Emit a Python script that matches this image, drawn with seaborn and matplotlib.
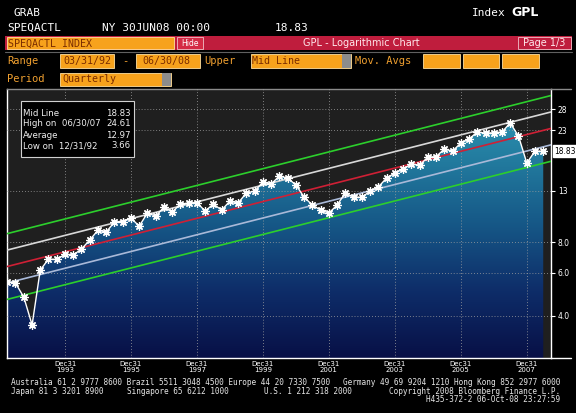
import numpy as np
import pandas as pd
import matplotlib
matplotlib.use("Agg")
import matplotlib.pyplot as plt
import matplotlib.dates as mdates
import matplotlib.transforms as mtrans
from matplotlib.colors import LinearSegmentedColormap
from matplotlib.patches import Rectangle
from matplotlib.lines import Line2D
import seaborn as sns

# ---------------- data ----------------
period_start = "1992Q1"
period_end = "2008Q2"
values = [5.49, 5.43, 4.76, 3.66, 6.14, 6.81, 6.79, 7.14, 7.08, 7.49,
          8.15, 8.96, 8.79, 9.66, 9.70, 10.03, 9.30, 10.52, 10.22, 11.13,
          10.61, 11.45, 11.56, 11.60, 10.72, 11.45, 10.82, 11.78, 11.56, 12.70,
          12.94, 14.09, 13.83, 14.91, 14.63, 13.70, 12.23, 11.34, 10.82, 10.52,
          11.34, 12.70, 12.23, 12.20, 12.94, 13.44, 14.63, 15.35, 15.93, 16.70,
          16.54, 17.83, 17.90, 19.23, 18.88, 20.37, 21.14, 22.59, 22.37, 22.41,
          22.59, 24.61, 21.75, 16.87, 18.88, 18.83]
major_years = [1993, 1995, 1997, 1999, 2001, 2003, 2005, 2007]
minor_years = [1992, 1994, 1996, 1998, 2000, 2002, 2004, 2006]
ytick_values = [4, 6, 8, 13, 23, 28]
ytick_labels = ["4.0", "6.0", "8.0", "13", "23", "28"]
last_value = 18.83
legend_rows = [("Mid Line", "18.83"), ("High on  06/30/07", "24.61"),
               ("Average", "12.97"), ("Low on  12/31/92", "3.66")]
footer1_left = "Australia 61 2 9777 8600 Brazil 5511 3048 4500 Europe 44 20 7330 7500"
footer1_right = "Germany 49 69 9204 1210 Hong Kong 852 2977 6000"
footer2_parts = ["Japan 81 3 3201 8900", "Singapore 65 6212 1000", "U.S. 1 212 318 2000"]
footer2_right = "Copyright 2008 Bloomberg Finance L.P."
footer3 = "H435-372-2 06-Oct-08 23:27:59"

dates = pd.period_range(period_start, period_end, freq="Q").to_timestamp(how="end").normalize()
df = pd.DataFrame({"date": dates, "value": values})

# ---------------- figure ----------------
W, H = 576, 413
sns.set_theme(style="dark")
plt.rcParams["font.family"] = ["DejaVu Sans", "Noto Sans"]
MONO = ["DejaVu Sans Mono", "DejaVu Sans"]

fig = plt.figure(figsize=(W / 100, H / 100), dpi=100, facecolor="black")


def fx(x):
    return x / W


def fy(y):
    return 1 - y / H


def rect(x0, y0, x1, y1, fc, ec="none", lw=0.0, z=1):
    fig.add_artist(Rectangle((fx(x0), fy(y1)), (x1 - x0) / W, (y1 - y0) / H,
                             transform=fig.transFigure, facecolor=fc,
                             edgecolor=ec, linewidth=lw, zorder=z))


def ftext(x, y, s, **kw):
    kw.setdefault("color", "white")
    kw.setdefault("va", "center")
    kw.setdefault("ha", "left")
    fig.text(fx(x), fy(y), s, **kw)


def hline(x0, x1, y, color, lw=1.0):
    fig.add_artist(Line2D([fx(x0), fx(x1)], [fy(y), fy(y)], transform=fig.transFigure,
                          color=color, linewidth=lw))


# ---- header ----
ftext(14, 13, "GRAB", family=MONO, fontsize=8)
ftext(7, 28, "SPEQACTL", family=MONO, fontsize=8)
ftext(102, 28, "NY 30JUN08 00:00", family=MONO, fontsize=8)
ftext(275, 28, "18.83", family=MONO, fontsize=8)
ftext(472, 13, "Index", family=MONO, fontsize=8)
ftext(511, 13, "GPL", family="DejaVu Sans", fontsize=9, fontweight="bold")

ORANGE = "#f7a21c"
ORTXT = "#7a2c00"
LBL = "#f0a030"
RED = "#bf1d3d"

rect(5, 36, 572, 50, RED)
rect(7, 37, 174, 49, ORANGE, ec="#ffe0a0", lw=0.6, z=2)
ftext(8, 43.5, "SPEQACTL INDEX", family=MONO, fontsize=7.2, color=ORTXT, zorder=3)
rect(177, 37.5, 203, 48.5, "#d42a45", ec="#f0c0c8", lw=0.6, z=2)
ftext(190, 43, "Hide", fontsize=5.5, ha="center", color="white", zorder=3)
ftext(361, 43.5, "GPL - Logarithmic Chart", fontsize=7, ha="center", color="#ffe8ec", zorder=3)
rect(518, 37, 571, 49, RED, ec="#f0c0c8", lw=0.6, z=2)
ftext(544.5, 43.5, "Page 1/3", fontsize=7, ha="center", color="#ffe8ec", zorder=3)
hline(5, 572, 51.5, "#606060", 0.8)

ftext(7, 61, "Range", family=MONO, fontsize=7.5, color=LBL)
rect(60, 54, 114, 68, ORANGE, ec="#ffe0a0", lw=0.6, z=2)
ftext(63, 61, "03/31/92", family=MONO, fontsize=7.2, color=ORTXT, zorder=3)
ftext(125, 61, "-", family=MONO, fontsize=7.5, color=LBL, ha="center")
rect(136, 54, 200, 68, ORANGE, ec="#ffe0a0", lw=0.6, z=2)
ftext(142, 61, "06/30/08", family=MONO, fontsize=7.2, color=ORTXT, zorder=3)
ftext(204, 61, "Upper", family=MONO, fontsize=7.5, color=LBL)
rect(251, 54, 351, 68, ORANGE, ec="#ffe0a0", lw=0.6, z=2)
rect(342, 54, 351, 68, "#8c8c8c", z=2)
ftext(252, 61, "Mid Line", family=MONO, fontsize=7.2, color=ORTXT, zorder=3)
ftext(355, 61, "Mov. Avgs", family=MONO, fontsize=7.5, color=LBL)
for a, b in [(423, 460), (463, 499), (502, 539)]:
    rect(a, 54, b, 68, ORANGE, ec="#ffe0a0", lw=0.6, z=2)

ftext(7, 79.5, "Period", family=MONO, fontsize=7.5, color=LBL)
rect(60, 73, 171, 86, ORANGE, ec="#ffe0a0", lw=0.6, z=2)
rect(162, 73, 171, 86, "#8c8c8c", z=2)
ftext(62, 79.5, "Quarterly", family=MONO, fontsize=7.2, color=ORTXT, zorder=3)

# ---- chart ----
ax = fig.add_axes([fx(7), fy(358), 544 / W, 269 / H])
ax.set_facecolor("#1f1f1f")
ax.set_yscale("log")
xlim = (pd.Timestamp("1992-03-28"), pd.Timestamp("2008-09-24"))
ylim = (2.68, 33.9)
ax.set_xlim(*xlim)
ax.set_ylim(*ylim)
ax.set_autoscale_on(False)

# gradient-filled area under the series
poly = ax.fill_between(df["date"], df["value"], ylim[0], facecolor="none",
                       edgecolor="none", zorder=1)
cmap = LinearSegmentedColormap.from_list(
    "bbg", [(0.0, "#081046"), (0.25, "#0e2d69"), (0.5, "#165887"),
            (0.75, "#237da0"), (1.0, "#339cba")])
grad = np.linspace(0, 1, 256).reshape(-1, 1)
im = ax.imshow(grad, extent=(0, 1, 0, 1), transform=ax.transAxes, origin="lower",
               cmap=cmap, aspect="auto", zorder=1, interpolation="bilinear")
im.set_clip_path(poly.get_paths()[0], ax.transData)

# log-linear regression channel
t = mdates.date2num(df["date"])
lv = np.log(df["value"].to_numpy())
coef = np.polyfit(t, lv, 1)
sd = np.std(lv - np.polyval(coef, t), ddof=1)
tx = mdates.date2num(list(xlim))
base = np.polyval(coef, tx)
chan = pd.DataFrame({"date": list(xlim) * 5,
                     "value": np.exp(np.concatenate([base + 2 * sd, base + sd, base,
                                                     base - sd, base - 2 * sd])),
                     "band": np.repeat(["+2", "+1", "0", "-1", "-2"], 2)})
band_colors = {"+2": "#2ccf2c", "+1": "#d8d8d8", "0": "#cf2035",
               "-1": "#a9b9d8", "-2": "#2ccf2c"}
sns.lineplot(data=chan, x="date", y="value", hue="band", palette=band_colors,
             linewidth=1.2, legend=False, ax=ax, zorder=3, estimator=None)

sns.lineplot(data=df, x="date", y="value", color="white", linewidth=1.0,
             marker=(8, 2, 0), markersize=6, markeredgecolor="white",
             markeredgewidth=0.9, ax=ax, zorder=5, estimator=None)
ax.set_xlim(*xlim)
ax.set_ylim(*ylim)
ax.set_xlabel("")
ax.set_ylabel("")

# ticks & grid
major_x = [pd.Timestamp(f"{y}-12-31") for y in major_years]
minor_x = [pd.Timestamp(f"{y}-12-31") for y in minor_years]
ax.set_xticks(major_x, labels=[f"Dec31\n{y}" for y in major_years])
ax.set_xticks(minor_x, minor=True)
ax.yaxis.tick_right()
ax.set_yticks(ytick_values, labels=ytick_labels)
ax.yaxis.set_minor_locator(matplotlib.ticker.NullLocator())
ax.tick_params(axis="x", which="both", colors="white", direction="out", length=2,
               width=0.8, labelsize=5, pad=0.5)
ax.tick_params(axis="y", which="both", colors="white", direction="out", length=3,
               width=0.8, labelsize=5.5, pad=2, right=True, left=False)
for lbl in ax.get_xticklabels():
    lbl.set_linespacing(1.0)
ax.set_axisbelow(False)
ax.grid(True, which="major", color="#a0a0a0", linestyle=(0, (1, 2.5)), linewidth=0.6)
ax.grid(False, which="minor")
for side in ["left", "right", "bottom"]:
    ax.spines[side].set_color("white")
    ax.spines[side].set_linewidth(1.0)
ax.spines["top"].set_color("#8a8a8a")
ax.spines["top"].set_linewidth(1.0)

# last value marker box on the right axis
bt = mtrans.blended_transform_factory(ax.transAxes, ax.transData)
ax.text(1.006, last_value, f"{last_value:.2f}", transform=bt, fontsize=5.5,
        color="black", va="center", ha="left", clip_on=False, zorder=10,
        bbox=dict(boxstyle="square,pad=0.2", facecolor="white", edgecolor="white"))

hline(551, 571, 88.5, "#8a8a8a", 1.0)
hline(551, 571, 358, "white", 1.0)

# statistics box
rect(21, 101, 134, 157, "black", ec="#d0d0d0", lw=0.8, z=5)
for i, (k, v) in enumerate(legend_rows):
    yy = 113 + i * 11
    ftext(23, yy, k, fontsize=6.2, color="#f0f0f0", zorder=6)
    ftext(131, yy, v, fontsize=6.2, color="#f0f0f0", ha="right", zorder=6)

# ---- footer ----
FS = 5.6
ftext(11, 382.5, footer1_left, family=MONO, fontsize=FS, color="#e6e6e6")
ftext(560, 382.5, footer1_right, family=MONO, fontsize=FS, color="#e6e6e6", ha="right")
for xx, s in zip([11, 127, 264], footer2_parts):
    ftext(xx, 391, s, family=MONO, fontsize=FS, color="#e6e6e6")
ftext(560, 391, footer2_right, family=MONO, fontsize=FS, color="#e6e6e6", ha="right")
ftext(560, 399, footer3, family=MONO, fontsize=FS, color="#e6e6e6", ha="right")

fig.savefig("out.png", dpi=100, facecolor="black")
